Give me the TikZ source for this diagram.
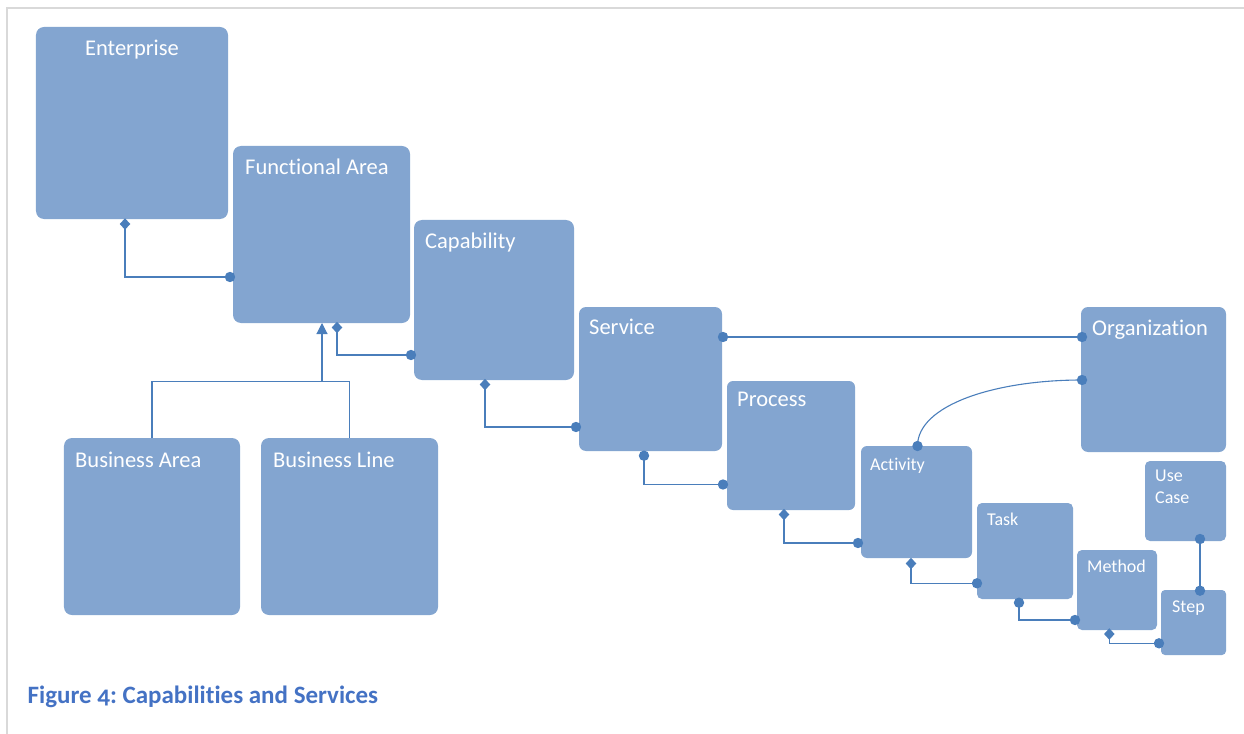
\documentclass[tikz,border=0pt]{standalone}
\usepackage{fontspec}
\setmainfont{Carlito}[Ligatures=NoCommon]
\newfontfamily\capfont{Carlito}[Numbers=OldStyle,Ligatures=NoCommon]
\usetikzlibrary{arrows.meta,shapes.geometric}
\definecolor{boxfill}{HTML}{83A5D0}
\definecolor{conn}{HTML}{4A7EBB}
\definecolor{framegray}{HTML}{D9D9D9}
\definecolor{capblue}{HTML}{4472C4}
\frenchspacing
\begin{document}
\begin{tikzpicture}[x=1bp,y=-1bp,
  box/.style={fill=boxfill, draw=none, rounded corners=#1, inner sep=0pt, outer sep=0pt},
  box/.default=8bp,
  big/.style={text=white, anchor=base west, inner sep=0pt, font=\fontsize{22.5bp}{27bp}\selectfont},
  small/.style={text=white, anchor=base west, inner sep=0pt, align=left, font=\fontsize{18bp}{21.3bp}\selectfont},
  wire/.style={draw=conn, line width=1.1bp},
  dot/.style={circle, fill=conn, minimum size=10.4bp, inner sep=0pt, outer sep=0pt},
  dmd/.style={diamond, fill=conn, minimum width=10.5bp, minimum height=11.5bp, inner sep=0pt, outer sep=0pt}]
\useasboundingbox (0,0) rectangle (1244,734);
% frame
\draw[framegray, line width=2bp] (7,734) -- (7,8) -- (1244,8);
% boxes
\node[box, minimum width=192bp, minimum height=192bp] (ent) at (132,123) {};
\node[box, minimum width=177bp, minimum height=177bp] (fa) at (321.5,234.5) {};
\node[box, minimum width=160bp, minimum height=160bp] (cap) at (494,300) {};
\node[box=7bp, minimum width=143bp, minimum height=144bp] (svc) at (650.5,379) {};
\node[box=6bp, minimum width=128bp, minimum height=129bp] (proc) at (791,445.5) {};
\node[box=6bp, minimum width=111bp, minimum height=112bp] (act) at (916.5,502) {};
\node[box=5bp, minimum width=96bp, minimum height=96bp] (task) at (1025,551) {};
\node[box=5bp, minimum width=80bp, minimum height=80bp] (meth) at (1117,590) {};
\node[box=4bp, minimum width=65bp, minimum height=65bp] (step) at (1193.5,622.5) {};
\node[box=5bp, minimum width=81bp, minimum height=80bp] (uc) at (1185.5,501) {};
\node[box=7bp, minimum width=145bp, minimum height=145bp] (org) at (1153.5,379.5) {};
\node[box, minimum width=176bp, minimum height=177bp] (ba) at (152,526.5) {};
\node[box, minimum width=177bp, minimum height=177bp] (bl) at (349.5,526.5) {};
% labels
\node[big, anchor=base] (ent-t) at (132,55.5) {Enterprise};
\node[big] (fa-t) at (245,174.5) {Functional Area};
\node[big] (cap-t) at (425,248.5) {Capability};
\node[big] (svc-t) at (589,334) {Service};
\node[big] (proc-t) at (737,406.5) {Process};
\node[big] (org-t) at (1092,335.5) {Organization};
\node[big] (ba-t) at (75,467.5) {Business Area};
\node[big] (bl-t) at (273,467.5) {Business Line};
\node[small] (act-t) at (870,470) {Activity};
\node[small] (task-t) at (987,525) {Task};
\node[small] (meth-t) at (1087,572.7) {Method};
\node[small, anchor=north west] (uc-t) at (1155,470) {Use\\Case};
\node[small] (step-t) at (1172,612.7) {Step};
% caption
\node[anchor=base west, inner sep=0pt, text=capblue, font=\capfont\bfseries\fontsize{25bp}{29bp}\selectfont] (caption) at (27.5,703) {Figure 4: Capabilities and Services};
% connector ends
\node[dmd] (dA) at (125,224) {};
\node[dot] (cA) at (230,277) {};
\node[dmd] (dB) at (337,327.5) {};
\node[dot] (cB) at (411,355) {};
\node[dmd] (dD) at (485,384.5) {};
\node[dot] (cD) at (576,427) {};
\node[dot] (cE1) at (723,337) {};
\node[dot] (cE2) at (1082,337) {};
\node[dot] (cF1) at (644,455.7) {};
\node[dot] (cF2) at (723,484.5) {};
\node[dmd] (dG) at (784,514.5) {};
\node[dot] (cG) at (858,543) {};
\node[dot] (cH1) at (1082,380) {};
\node[dot] (cH2) at (917.5,446) {};
\node[dmd] (dI) at (911,563.5) {};
\node[dot] (cI) at (977,583.3) {};
\node[dot] (cJ1) at (1019,602.7) {};
\node[dot] (cJ2) at (1075,620) {};
\node[dmd] (dK) at (1109.3,634) {};
\node[dot] (cK) at (1159,643.3) {};
\node[dot] (cL1) at (1200,539) {};
\node[dot] (cL2) at (1200,590.7) {};
\coordinate (jn) at (322,381.5);
% connectors
\draw[wire] (dA.center) |- (cA.center);
\draw[wire] (dB.center) |- (cB.center);
\draw[wire] (dD.center) |- (cD.center);
\draw[wire] (cE1.center) -- (cE2.center);
\draw[wire] (cF1.center) |- (cF2.center);
\draw[wire] (dG.center) |- (cG.center);
\draw[wire] (cH1.center) .. controls (995,380) and (917.5,405) .. (cH2.center);
\draw[wire] (dI.center) |- (cI.center);
\draw[wire] (cJ1.center) |- (cJ2.center);
\draw[wire] (dK.center) |- (cK.center);
\draw[wire] (cL1.center) -- (cL2.center);
\draw[wire] (ba.north) |- (jn) -| (bl.north);
\draw[wire, -{Triangle[width=11bp,length=11bp]}] (jn) -- (jn |- fa.south);
\end{tikzpicture}
\end{document}
